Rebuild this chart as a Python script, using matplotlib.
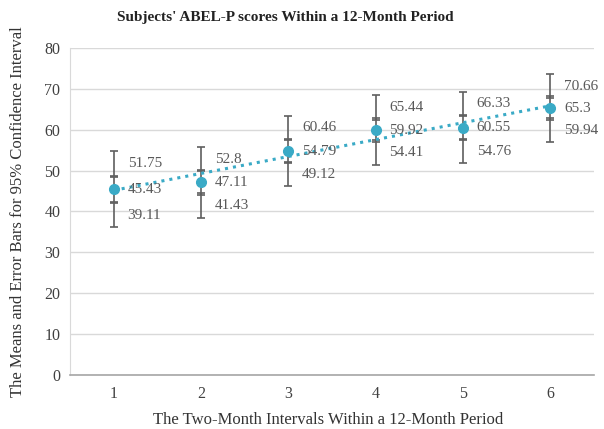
import numpy as np
import matplotlib.pyplot as plt

periods = [1, 2, 3, 4, 5, 6]
means = [45.43, 47.11, 54.79, 59.92, 60.55, 65.3]
upper = [51.75, 52.8, 60.46, 65.44, 66.33, 70.66]
lower = [39.11, 41.43, 49.12, 54.41, 54.76, 59.94]
err = 3.0

plt.rcParams['font.family'] = ['Liberation Serif', 'DejaVu Serif']
txt = '#595959'
bar_col = '#5f5f5f'
dot_col = '#3aaac6'

fig = plt.figure(figsize=(6.04, 4.29), dpi=100)
ax = fig.add_axes([0.116, 0.126, 0.867, 0.762])

x = np.array(periods)
for ser in (upper, means, lower):
    ax.errorbar(x, ser, yerr=err, fmt='none', ecolor=bar_col, elinewidth=1.2,
                capsize=3, capthick=1.2, zorder=3)

ax.plot(x, means, 'o', color=dot_col, markersize=7, zorder=5)

# linear trend line through the means
k, b = np.polyfit(x, means, 1)
ax.plot(x, k * x + b, ':', color=dot_col, linewidth=2.2, zorder=4)

for ser in (upper, means, lower):
    for xi, v in zip(x, ser):
        ax.annotate('%g' % v, (xi, v), xytext=(10, 0), textcoords='offset points',
                    va='center', ha='left', fontsize=11, color=txt, zorder=6)

ax.set_xlim(0.5, 6.5)
ax.set_ylim(0, 80)
ax.set_yticks(range(0, 81, 10))
ax.set_xticks(periods)
ax.grid(axis='y', color='#d9d9d9', linewidth=1)
ax.set_axisbelow(True)
for s in ('top', 'right'):
    ax.spines[s].set_visible(False)
ax.spines['left'].set_color('#d9d9d9')
ax.spines['bottom'].set_color('#a6a6a6')
ax.spines['bottom'].set_linewidth(1.2)
ax.tick_params(length=0, labelsize=11.5, colors='#404040', pad=7)
ax.tick_params(axis='x', pad=8)

fig.text(285 / 604, 1 - 17 / 429, "Subjects' ABEL-P scores Within a 12-Month Period",
         fontsize=11, fontweight='bold', color='#222222', ha='center', va='center')
fig.text(328 / 604, 1 - 420 / 429, 'The Two-Month Intervals Within a 12-Month Period',
         fontsize=12, color='#333333', ha='center', va='center')
ax.set_ylabel('The Means and Error Bars for 95% Confidence Interval', fontsize=12,
              color='#333333', labelpad=13)

fig.savefig('out.png', dpi=100)
